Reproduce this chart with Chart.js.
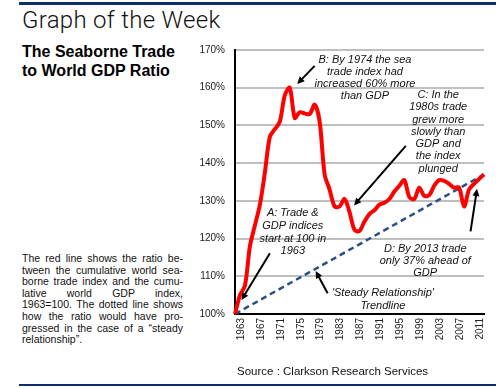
<!DOCTYPE html>
<html>
<head>
<meta charset="utf-8">
<script src="https://cdn.jsdelivr.net/npm/chart.js@4"></script>
<style>
  html, body { margin: 0; padding: 0; background: #fff; }
  #page { position: relative; width: 500px; height: 388px; overflow: hidden; font-family: "Liberation Sans", Arial, sans-serif; color: #111; }
  #chartBox { position: absolute; left: 0; top: 0; width: 500px; height: 388px; }
  .rule { position: absolute; left: 19px; width: 477px; background: #0d2d6c; }
  #title { position: absolute; left: 22px; top: 6px; font-family: Roboto, "Liberation Sans", sans-serif; font-weight: 300; font-size: 24px; letter-spacing: 0.3px; color: #111; }
  #subtitle { position: absolute; left: 22px; top: 42px; font-weight: bold; font-size: 16px; line-height: 19px; color: #000; }
  #desc { position: absolute; left: 22px; top: 253px; width: 161px; font-size: 10.5px; line-height: 11.6px; color: #111; }
  #desc div { text-align: justify; text-align-last: justify; white-space: nowrap; }
  #desc div.last { text-align-last: left; }
  #source { position: absolute; left: 237px; top: 365px; font-size: 11.5px; letter-spacing: 0; color: #111; }
</style>
</head>
<body>
<div id="page">
  <div class="rule" style="top:2px;height:3px"></div>
  <div class="rule" style="top:384px;height:2px"></div>
  <div id="title">Graph of the Week</div>
  <div id="subtitle">The Seaborne Trade<br>to World GDP Ratio</div>
  <div id="desc">
    <div>The red line shows the ratio be-</div>
    <div>tween the cumulative world sea-</div>
    <div>borne trade index and the cumu-</div>
    <div>lative world GDP index,</div>
    <div>1963=100. The dotted line shows</div>
    <div>how the ratio would have pro-</div>
    <div>gressed in the case of a “steady</div>
    <div class="last">relationship”.</div>
  </div>
  <div id="chartBox"><canvas id="chart"></canvas></div>
  <div id="source">Source : Clarkson Research Services</div>
</div>
<script>
const years = [];
for (let y = 1963; y <= 2013; y++) years.push(String(y));

const tickYears = ["1963", "1967", "1971", "1975", "1979", "1983", "1987", "1991", "1995", "1999", "2003", "2007", "2011"];

// trade index / GDP index, 1963 = 100
const ratioValues = [
  100, 105, 107.5, 118, 123.5, 129, 137.5, 147, 149, 151,
  158, 160, 152, 153.5, 153.2, 153, 155.5, 151, 137, 133,
  128.5, 128.5, 130.5, 127, 122.3, 122, 124.5, 126.5, 127.5, 129,
  129.5, 130.5, 132.5, 134, 135.5, 131, 130.5, 133.5, 131.3, 131.5,
  134, 135.5, 135.3, 134.5, 133.5, 133.5, 128.5, 133, 134.5, 135.8,
  137
];

// steady relationship trendline: only the two end points
const trendValues = years.map(y => y === "1963" ? 100 : y === "2013" ? 137 : null);

const yTicks = [100, 110, 120, 130, 140, 150, 160, 170];

// annotation text and arrows, in data coordinates (year, value)
const notes = [
  { x: 1989.1, y: 167.3, lh: 12, lines: ["B: By 1974 the sea", "trade index had", "increased 60% more", "than GDP"] },
  { x: 2003.8, y: 158.1, lh: 12.3, lines: ["C: In the", "1980s trade", "grew more", "slowly than", "GDP and", "the index", "plunged"] },
  { x: 1974.6, y: 126.7, lh: 12.6, lines: ["A: Trade &", "GDP indices", "start at 100 in", "1963"] },
  { x: 2001.2, y: 117.2, lh: 12, lines: ["D: By 2013 trade", "only 37% ahead of", "GDP"] },
  { x: 1992.7, y: 105.5, lh: 12.6, lines: ["'Steady Relationship'", "Trendline"] }
];
const arrows = [
  { from: [1979.0, 165.8], to: [1975.5, 161.0] },
  { from: [1997.3, 144.6], to: [1986.9, 128.8] },
  { from: [1970.0, 116.1], to: [1964.3, 103.7] },
  { from: [2010.3, 121.9], to: [2011.6, 133.2] },
  { from: [1981.6, 105.5], to: [1979.2, 111.4] }
];

function toPx(chart, xv, yv) {
  const xs = chart.scales.x, ys = chart.scales.y;
  const x0 = xs.getPixelForValue(0);
  const step = xs.getPixelForValue(1) - x0;
  return [x0 + (xv - 1963) * step, ys.getPixelForValue(yv)];
}

const annotationPlugin = {
  id: "notes",
  afterDatasetsDraw(chart) {
    const ctx = chart.ctx;
    ctx.save();
    ctx.fillStyle = "#111";
    ctx.font = "italic 11px 'Liberation Sans', Arial, sans-serif";
    ctx.textAlign = "center";
    ctx.textBaseline = "middle";
    notes.forEach(n => {
      const [px, py] = toPx(chart, n.x, n.y);
      n.lines.forEach((line, i) => ctx.fillText(line, px, py + i * n.lh));
    });
    ctx.strokeStyle = "#000";
    ctx.fillStyle = "#000";
    ctx.lineWidth = 2;
    arrows.forEach(a => {
      const [x1, y1] = toPx(chart, a.from[0], a.from[1]);
      const [x2, y2] = toPx(chart, a.to[0], a.to[1]);
      const ang = Math.atan2(y2 - y1, x2 - x1);
      const head = 8;
      ctx.beginPath();
      ctx.moveTo(x1, y1);
      ctx.lineTo(x2 - Math.cos(ang) * head * 0.7, y2 - Math.sin(ang) * head * 0.7);
      ctx.stroke();
      ctx.beginPath();
      ctx.moveTo(x2, y2);
      ctx.lineTo(x2 - head * Math.cos(ang - 0.45), y2 - head * Math.sin(ang - 0.45));
      ctx.lineTo(x2 - head * Math.cos(ang + 0.45), y2 - head * Math.sin(ang + 0.45));
      ctx.closePath();
      ctx.fill();
    });
    ctx.restore();
  }
};

const ctx = document.getElementById("chart").getContext("2d");
new Chart(ctx, {
  type: "line",
  data: {
    labels: years,
    datasets: [
      {
        label: "Trendline",
        data: trendValues,
        borderColor: "#2a4f86",
        borderWidth: 2.5,
        borderDash: [6, 4],
        pointRadius: 0,
        spanGaps: true,
        tension: 0,
        order: 1
      },
      {
        label: "Seaborne trade / GDP",
        data: ratioValues,
        borderColor: "#ff0000",
        borderWidth: 4,
        pointRadius: 0,
        tension: 0.3,
        order: 0
      }
    ]
  },
  options: {
    responsive: true,
    maintainAspectRatio: false,
    animation: false,
    layout: { padding: { top: 50, right: 10, left: 0, bottom: 0 } },
    plugins: {
      legend: { display: false },
      tooltip: { enabled: false }
    },
    scales: {
      x: {
        offset: false,
        grid: { display: false, drawTicks: false },
        border: { display: true, color: "#000", width: 2 },
        ticks: {
          autoSkip: false,
          minRotation: 90,
          maxRotation: 90,
          padding: 4,
          labelOffset: 6,
          color: "#222",
          font: { family: "'Liberation Sans', Arial, sans-serif", size: 10 },
          callback: function(value) {
            const lab = this.getLabelForValue(value);
            return tickYears.includes(lab) ? lab : "";
          }
        },
        afterFit(scale) { scale.height = 74; }
      },
      y: {
        min: 100,
        max: 170,
        afterBuildTicks(scale) { scale.ticks = yTicks.map(v => ({ value: v })); },
        grid: { color: "#bfbfbf", lineWidth: 2, drawTicks: false },
        border: { display: true, color: "#000", width: 2 },
        ticks: {
          padding: 10,
          color: "#222",
          font: { family: "'Liberation Sans', Arial, sans-serif", size: 10 },
          callback: v => v + "%"
        },
        afterFit(scale) { scale.width = 235; }
      }
    }
  },
  plugins: [annotationPlugin]
});
</script>
</body>
</html>
